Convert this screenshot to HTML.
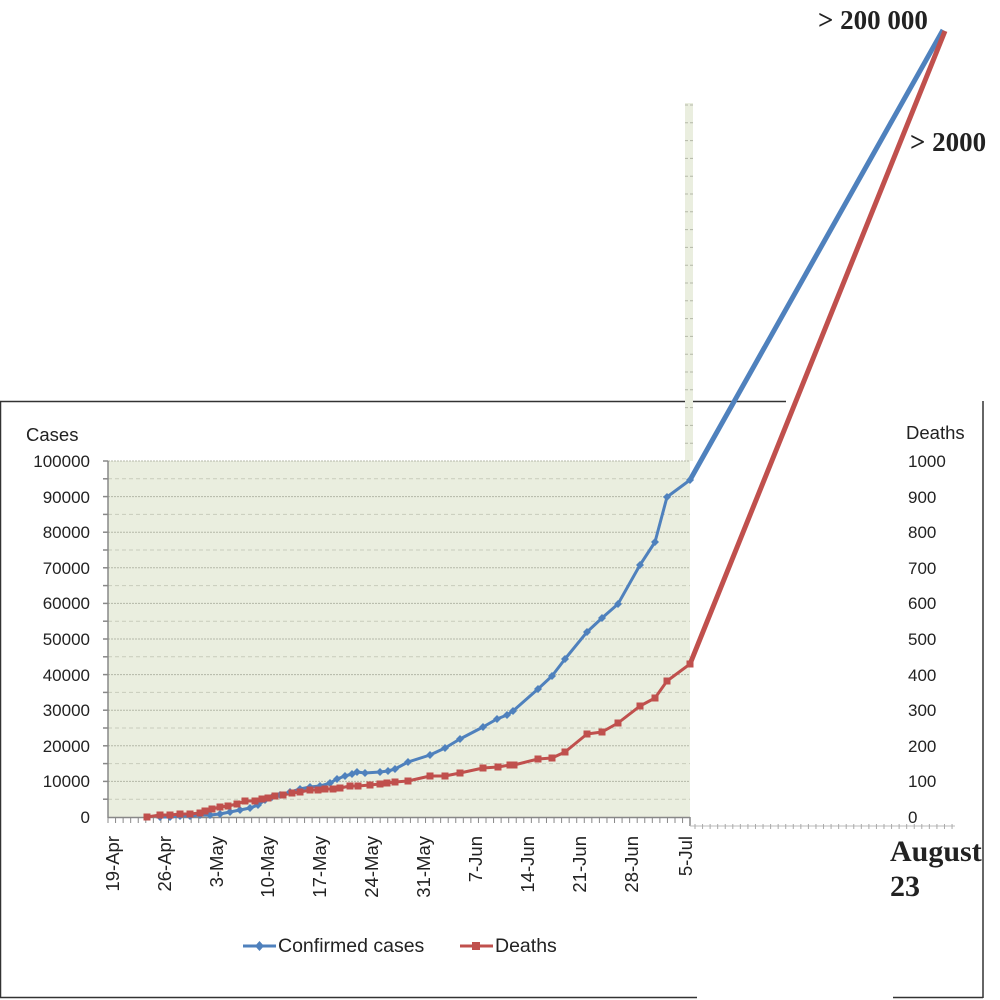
<!DOCTYPE html>
<html><head><meta charset="utf-8"><style>
html,body{margin:0;padding:0;background:#fff;width:1000px;height:1000px;overflow:hidden}
svg{display:block}
.t{font-family:"Liberation Sans","DejaVu Sans",sans-serif;fill:#222}
.b{font-family:"Liberation Serif",serif;font-weight:bold;fill:#222}
</style></head><body>
<svg id="s" width="1000" height="1000" viewBox="0 0 1000 1000">
<line x1="0" y1="401.5" x2="786" y2="401.5" stroke="#333" stroke-width="1.5"/>
<line x1="0.5" y1="401" x2="0.5" y2="998" stroke="#333" stroke-width="1.5"/>
<line x1="983" y1="401" x2="983" y2="998" stroke="#333" stroke-width="1.5"/>
<line x1="0" y1="997.5" x2="697" y2="997.5" stroke="#333" stroke-width="1.5"/>
<line x1="893" y1="997.5" x2="983" y2="997.5" stroke="#333" stroke-width="1.5"/>
<rect x="108" y="461" width="582" height="356" fill="#eaeedf"/>
<rect x="685" y="103" width="8" height="358" fill="#eaeedf"/>
<g id="grid"></g>
<line x1="108" y1="461" x2="108" y2="818" stroke="#888" stroke-width="1.5"/>
<line x1="108" y1="817.5" x2="690" y2="817.5" stroke="#888" stroke-width="1.5"/>
<line x1="690" y1="817" x2="690" y2="826" stroke="#888" stroke-width="1.5"/>
<line x1="690" y1="826" x2="955" y2="826" stroke="#bbb" stroke-width="1"/>
<g id="ticks"></g>
<text class="t" x="26" y="441" style="font-size:18.5px">Cases</text>
<g class="t" text-anchor="end" style="font-size:17px">
<text x="90" y="467">100000</text><text x="90" y="503">90000</text><text x="90" y="538">80000</text>
<text x="90" y="574">70000</text><text x="90" y="609">60000</text><text x="90" y="645">50000</text>
<text x="90" y="681">40000</text><text x="90" y="716">30000</text><text x="90" y="752">20000</text>
<text x="90" y="787">10000</text><text x="90" y="823">0</text>
</g>
<text class="t" x="906" y="439" style="font-size:18.5px">Deaths</text>
<g class="t" style="font-size:17px">
<text x="908" y="467">1000</text><text x="908" y="503">900</text><text x="908" y="538">800</text>
<text x="908" y="574">700</text><text x="908" y="609">600</text><text x="908" y="645">500</text>
<text x="908" y="681">400</text><text x="908" y="716">300</text><text x="908" y="752">200</text>
<text x="908" y="787">100</text><text x="908" y="823">0</text>
</g>
<g class="t" text-anchor="end" style="font-size:18.5px">
<text transform="translate(119,836) rotate(-90)">19-Apr</text>
<text transform="translate(171,836) rotate(-90)">26-Apr</text>
<text transform="translate(223,836) rotate(-90)">3-May</text>
<text transform="translate(274,836) rotate(-90)">10-May</text>
<text transform="translate(326,836) rotate(-90)">17-May</text>
<text transform="translate(378,836) rotate(-90)">24-May</text>
<text transform="translate(430,836) rotate(-90)">31-May</text>
<text transform="translate(482,836) rotate(-90)">7-Jun</text>
<text transform="translate(534,836) rotate(-90)">14-Jun</text>
<text transform="translate(586,836) rotate(-90)">21-Jun</text>
<text transform="translate(638,836) rotate(-90)">28-Jun</text>
<text transform="translate(692,836) rotate(-90)">5-Jul</text>
</g>
<text class="b" x="890" y="861" style="font-size:30px">August</text>
<text class="b" x="890" y="896" style="font-size:30px">23</text>
<text class="b" x="818" y="29" style="font-size:27px">&gt; 200 000</text>
<text class="b" x="910" y="151" style="font-size:27px">&gt; 2000</text>
<line x1="690" y1="480" x2="943" y2="30" stroke="#4f81bd" stroke-width="5"/>
<line x1="690" y1="664" x2="945" y2="31" stroke="#c0504d" stroke-width="5"/>
<polyline id="blue" fill="none" stroke="#4f81bd" stroke-width="3" stroke-linejoin="round" points="160,817 170,817 180,816 190,816 200,815 210,815 220,814 230,812 240,810 250,808 258,805 265,800 272,797 280,795 290,792 300,789 310,787 320,786 330,783 337,779 345,776 352,774 357,772 365,773 380,772 388,771 395,769 408,762 430,755 445,748 460,739 483,727 497,719 507,715 513,711 538,689 552,676 565,659 587,632 602,618 618,604 640,565 655,542 667,497 690,480"/>
<polyline id="red" fill="none" stroke="#c0504d" stroke-width="3" stroke-linejoin="round" points="147,817 160,815 170,815 180,814 190,814 200,813 205,811 212,809 220,807 228,806 237,804 245,801 255,801 262,799 268,798 275,796 283,795 292,793 300,792 310,790 318,790 325,789 333,789 340,788 350,786 358,786 370,785 380,784 387,783 395,782 408,781 430,776 445,776 460,773 483,768 498,767 510,765 514,765 538,759 552,758 565,752 587,734 602,732 618,723 640,706 655,698 667,681 690,664"/>
<g id="mk"></g>
<line x1="243" y1="946" x2="276" y2="946" stroke="#4f81bd" stroke-width="3"/>
<path d="M259.5,941 L264,946 L259.5,951 L255,946Z" fill="#4f81bd"/>
<text class="t" x="278" y="952" style="font-size:19.5px">Confirmed cases</text>
<line x1="460" y1="946" x2="493" y2="946" stroke="#c0504d" stroke-width="3"/>
<rect x="472" y="942" width="8" height="8" fill="#c0504d"/>
<text class="t" x="495" y="952" style="font-size:19.5px">Deaths</text>
</svg>
<script>
var NS="http://www.w3.org/2000/svg";
function el(p,n,a){var e=document.createElementNS(NS,n);for(var k in a)e.setAttribute(k,a[k]);p.appendChild(e);return e;}
var g=document.getElementById('grid'),t=document.getElementById('ticks'),m=document.getElementById('mk');
for(var i=1;i<=20;i++){var y=817-i*17.8;
 el(g,'line',{x1:108,x2:690,y1:y,y2:y,stroke:i%2?'#c8ccbc':'#b4b8a8','stroke-dasharray':i%2?'4,3':'2,1','stroke-width':1});
 el(t,'line',{x1:103,x2:108,y1:y,y2:y,stroke:'#888','stroke-width':1.5});}
for(var y=461-17.8;y>103;y-=17.8){el(g,'line',{x1:685,x2:693,y1:y,y2:y,stroke:'#b4b8a8','stroke-dasharray':'3,2'});}
for(var x=108;x<=690;x+=7.56){el(t,'line',{x1:x,x2:x,y1:817,y2:823,stroke:'#888'});}
for(var x=695;x<=955;x+=7.56){el(t,'line',{x1:x,x2:x,y1:824,y2:829,stroke:'#aaa'});}
document.getElementById('blue').getAttribute('points').split(' ').forEach(function(p){var c=p.split(',');
 el(m,'path',{d:'M'+c[0]+','+(c[1]-4)+' l4,4 l-4,4 l-4,-4z',fill:'#4f81bd'});});
document.getElementById('red').getAttribute('points').split(' ').forEach(function(p){var c=p.split(',');
 el(m,'rect',{x:c[0]-3.5,y:c[1]-3.5,width:7,height:7,fill:'#c0504d'});});
</script>
</body></html>
